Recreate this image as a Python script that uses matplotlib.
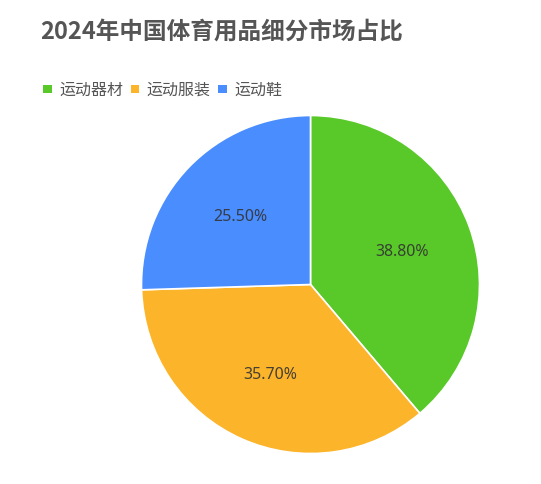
import matplotlib
matplotlib.use("Agg")
import matplotlib.pyplot as plt
from matplotlib.patches import Rectangle

plt.rcParams['font.family'] = ['Noto Sans CJK SC', 'DejaVu Sans']

title = "2024年中国体育用品细分市场占比"
categories = ["运动器材", "运动服装", "运动鞋"]
values = [38.8, 35.7, 25.5]
colors = ["#59C929", "#FCB42A", "#4A8DFE"]

W, H = 541, 485
fig = plt.figure(figsize=(W / 100, H / 100), dpi=100)
fig.patch.set_facecolor("white")

# pie axes: centre (310.5, 285.5) px, radius 169 px
cx, cy, r = 310.5, 285.5, 169
ax = fig.add_axes([(cx - r) / W, (H - cy - r) / H, 2 * r / W, 2 * r / H])
wedges, texts, autotexts = ax.pie(
    values, colors=colors, startangle=90, counterclock=False,
    autopct=lambda p: f"{p:.2f}%", pctdistance=0.58,
    wedgeprops=dict(edgecolor="white", linewidth=1.2),
    textprops=dict(fontsize=11.5, color="#333333",
                   family=['Noto Sans', 'DejaVu Sans']))
for t in autotexts:
    t.set_alpha(0.9)
ax.set_xlim(-1, 1)
ax.set_ylim(-1, 1)
ax.set_aspect("equal")
ax.axis("off")

# title
fig.text(40 / W, 1 - 32 / H, title, fontsize=17, fontweight="bold",
         color="#555555", ha="left", va="center")

# legend drawn manually
fig.canvas.draw()
renderer = fig.canvas.get_renderer()
x = 43.0
ly = 90.0
sq = 8.5
for cat, col in zip(categories, colors):
    fig.patches.append(Rectangle((x / W, 1 - (ly + sq / 2) / H), sq / W, sq / H,
                                 transform=fig.transFigure, facecolor=col,
                                 edgecolor="none"))
    tx = x + sq + 7.5
    t = fig.text(tx / W, 1 - ly / H, cat, fontsize=11.5, color="#555555",
                 ha="left", va="center")
    bb = t.get_window_extent(renderer)
    x = tx + bb.width + 7.5

fig.savefig("out.png", dpi=100, facecolor="white")
